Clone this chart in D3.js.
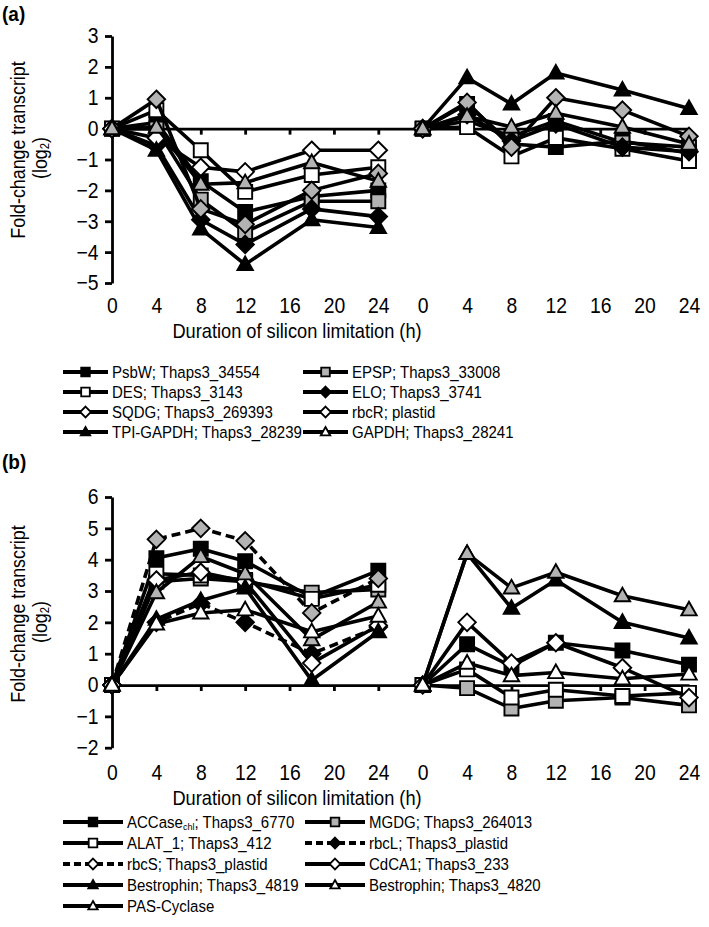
<!DOCTYPE html>
<html><head><meta charset="utf-8">
<script src="https://cdn.jsdelivr.net/npm/d3@7"></script>
<style>body{margin:0;background:#fff}svg{display:block}</style>
</head><body>
<script>
// ---------------- DATA ----------------
const hours = [0, 4, 8, 12, 18, 24];
const xTickLabels = ["0","4","8","12","16","20","24","0","4","8","12","16","20","24"];
const yTicksA = [-5,-4,-3,-2,-1,0,1,2,3];
const yTicksB = [-2,-1,0,1,2,3,4,5,6];

// Panel (a)
const namesA = ["PsbW; Thaps3_34554","EPSP; Thaps3_33008","DES; Thaps3_3143","ELO; Thaps3_3741",
                "SQDG; Thaps3_269393","rbcR; plastid","TPI-GAPDH; Thaps3_28239","GAPDH; Thaps3_28241"];
const PsbW_L  = [0, 0.2, -1.7, -2.7, -2.2, -2.0];   const PsbW_R  = [0, 0.8, -0.5, -0.6, -0.4, -0.8];
const EPSP_L  = [0, 0.0, -2.3, -3.35, -2.35, -2.35]; const EPSP_R  = [0, 0.25, -0.25, 0.25, -0.45, -0.6];
const DES_L   = [0, 0.6, -0.7, -2.05, -1.5, -1.25]; const DES_R   = [0, 0.05, -0.9, -0.3, -0.65, -1.05];
const ELO_L   = [0, -0.55, -2.95, -3.75, -2.6, -2.85]; const ELO_R = [0, 0.45, -0.4, 0.15, -0.6, -0.75];
const SQDG_L  = [0, 0.95, -2.6, -3.1, -2.0, -1.45]; const SQDG_R  = [0, 0.85, -0.6, 1.0, 0.6, -0.25];
const rbcR_L  = [0, -0.3, -1.25, -1.4, -0.7, -0.7]; const rbcR_R  = null;
const TPI_L   = [0, -0.7, -3.25, -4.4, -2.95, -3.2]; const TPI_R  = [0, 1.65, 0.8, 1.8, 1.25, 0.65];
const GAPDH_L = [0, 0.05, -1.8, -1.75, -1.1, -1.7]; const GAPDH_R = [0, 0.4, 0.05, 0.5, 0.05, -0.5];

// Panel (b)
const namesB = ["ACCase_{chl}; Thaps3_6770","MGDG; Thaps3_264013","ALAT_1; Thaps3_412","rbcL; Thaps3_plastid",
                "rbcS; Thaps3_plastid","CdCA1; Thaps3_233","Bestrophin; Thaps3_4819","Bestrophin; Thaps3_4820","PAS-Cyclase"];
const ACC_L   = [0, 4.05, 4.35, 3.95, 2.8, 3.65];  const ACC_R   = [0, 1.3, 0.6, 1.35, 1.1, 0.65];
const MGDG_L  = [0, 3.3, 3.4, 3.3, 2.95, 3.05];    const MGDG_R  = [0, -0.1, -0.75, -0.5, -0.4, -0.65];
const ALAT_L  = [0, 3.55, 3.5, 3.35, 2.75, 3.2];   const ALAT_R  = [0, 0.5, -0.4, -0.15, -0.35, -0.25];
const rbcL_L  = [0, 2.0, 2.6, 2.0, 1.0, 1.85];     const rbcL_R  = null;
const rbcS_L  = [0, 4.65, 5.0, 4.6, 2.3, 3.4];     const rbcS_R  = null;
const CdCA_L  = [0, 3.35, 3.6, 3.3, 0.7, 1.9];     const CdCA_R  = [0, 2.0, 0.7, 1.35, 0.55, -0.4];
const B4819_L = [0, 2.1, 2.7, 3.1, 0.15, 1.7];     const B4819_R = [0, 4.2, 2.45, 3.35, 2.0, 1.5];
const B4820_L = [0, 2.95, 4.1, 3.55, 1.45, 2.65];  const B4820_R = [0, 4.2, 3.1, 3.6, 2.85, 2.4];
const PAS_L   = [0, 1.95, 2.3, 2.4, 1.7, 2.2];     const PAS_R   = [0, 0.7, 0.3, 0.4, 0.2, 0.35];

// ---------------- STYLES (separate from data) ----------------
const GRAY = "#b3b3b3";
const stylesA = [
  {shape:"square", fill:"#000"}, {shape:"square", fill:GRAY}, {shape:"square", fill:"#fff"}, {shape:"diamond", fill:"#000"},
  {shape:"diamond", fill:GRAY}, {shape:"diamond", fill:"#fff"}, {shape:"triangle", fill:"#000"}, {shape:"triangle", fill:GRAY}];
const legendFillA = ["#000", GRAY, "#fff", "#000", "#fff", "#fff", "#000", "#fff"];
const stylesB = [
  {shape:"square", fill:"#000"}, {shape:"square", fill:GRAY}, {shape:"square", fill:"#fff"}, {shape:"diamond", fill:"#000", dash:true},
  {shape:"diamond", fill:GRAY, dash:true}, {shape:"diamond", fill:"#fff"}, {shape:"triangle", fill:"#000"}, {shape:"triangle", fill:GRAY},
  {shape:"triangle", fill:"#fff"}];
const legendFillB = ["#000", GRAY, "#fff", "#000", "#fff", "#fff", "#000", "#fff", "#fff"];

const seriesA = [[PsbW_L,PsbW_R],[EPSP_L,EPSP_R],[DES_L,DES_R],[ELO_L,ELO_R],[SQDG_L,SQDG_R],[rbcR_L,rbcR_R],[TPI_L,TPI_R],[GAPDH_L,GAPDH_R]]
  .map((d,i)=>({name:namesA[i], left:d[0], right:d[1], ...stylesA[i], lfill:legendFillA[i]}));
const seriesB = [[ACC_L,ACC_R],[MGDG_L,MGDG_R],[ALAT_L,ALAT_R],[rbcL_L,rbcL_R],[rbcS_L,rbcS_R],[CdCA_L,CdCA_R],[B4819_L,B4819_R],[B4820_L,B4820_R],[PAS_L,PAS_R]]
  .map((d,i)=>({name:namesB[i], left:d[0], right:d[1], ...stylesB[i], lfill:legendFillB[i]}));

// ---------------- DRAW ----------------
const FONT = "'Liberation Sans', Arial, Helvetica, sans-serif";
const svg = d3.select("body").append("svg").attr("width",709).attr("height",927)
  .style("font-family", FONT);

function markerPath(shape, s){
  if(shape==="square") return `M${-s},${-s}h${2*s}v${2*s}h${-2*s}Z`;
  if(shape==="diamond"){ const d=s*1.25; return `M0,${-d}L${d},0L0,${d}L${-d},0Z`; }
  return `M0,${-s*1.15}L${s*1.1},${s*0.8}L${-s*1.1},${s*0.8}Z`;
}

function drawText(g, x, y, str, size, sx, anchor, weight, rot){
  const t = g.append("text")
    .attr("transform", `translate(${x},${y})` + (rot?` rotate(${rot})`:"") + ` scale(${sx},1)`)
    .attr("font-size", size).attr("text-anchor", anchor||"start")
    .attr("dominant-baseline","central").attr("fill","#000");
  if(weight) t.attr("font-weight", weight);
  const m = str.match(/^(.*)_\{(.*)\}(.*)$/);
  if(m){
    t.append("tspan").text(m[1]);
    t.append("tspan").attr("font-size", size*0.6).attr("dy", size*0.22).text(m[2]);
    t.append("tspan").attr("dy", -size*0.22).text(m[3]);
  } else t.text(str);
  return t;
}

function panel(cfg){
  const g = svg.append("g");
  const x = d3.scaleLinear().domain([0,52]).range([112,689]);
  const y = d3.scaleLinear().domain(cfg.yDomain).range(cfg.yRange);
  const y0 = y(0);
  const xTickVals = d3.range(0,53,4);

  // y axis
  const ya = g.append("g").attr("transform","translate(112,0)")
    .call(d3.axisLeft(y).tickValues(cfg.yTicks).tickSizeInner(7).tickSizeOuter(0).tickPadding(8)
      .tickFormat(d => d<0 ? "\u2212"+(-d) : String(d)));
  ya.select(".domain").attr("stroke-width",2.8);
  ya.selectAll(".tick line").attr("stroke-width",2.8);
  ya.selectAll(".tick text").attr("font-size",21.5).attr("font-family",FONT)
    .attr("transform","scale(0.9,1)").attr("fill","#000");

  // x axis line at zero with ticks
  const xa = g.append("g").attr("transform",`translate(0,${y0})`)
    .call(d3.axisBottom(x).tickValues(xTickVals.filter(d=>d>0)).tickSizeInner(6).tickSizeOuter(0).tickFormat(""));
  xa.select(".domain").attr("stroke-width",2.8);
  xa.selectAll(".tick line").attr("stroke-width",2.8);

  // x labels at bottom
  const xl = g.append("g").attr("transform",`translate(0,${cfg.xLabelY})`)
    .call(d3.axisBottom(x).tickValues(xTickVals).tickSize(0).tickPadding(0).tickFormat((d,i)=>xTickLabels[i]));
  xl.select(".domain").remove();
  xl.selectAll(".tick text").attr("font-size",21.5).attr("font-family",FONT).attr("fill","#000")
    .attr("dy",null).attr("y",0).attr("dominant-baseline","central").attr("transform","scale(0.9,1)");

  // series
  const line = d3.line().x(d=>x(d[0])).y(d=>y(d[1]));
  cfg.series.forEach(s=>{
    [[s.left,0],[s.right,28]].forEach(([vals,off])=>{
      if(!vals) return;
      const pts = vals.map((v,i)=>[hours[i]+off, v]);
      g.append("path").attr("d",line(pts)).attr("fill","none").attr("stroke","#000")
        .attr("stroke-width",3.6).attr("stroke-linejoin","round")
        .attr("stroke-dasharray", s.dash ? "9,5" : null);
      g.selectAll(null).data(pts).enter().append("path")
        .attr("transform",d=>`translate(${x(d[0])},${y(d[1])})`)
        .attr("d",markerPath(s.shape,7)).attr("fill",s.fill).attr("stroke","#000").attr("stroke-width",1.9);
    });
  });

  // titles
  drawText(g, 297, cfg.titleY, "Duration of silicon limitation (h)", 20.5, 0.89, "middle");
  drawText(g, 18, cfg.yTitleC, "Fold-change transcript", 20.5, 0.87, "middle", null, -90);
  const lt = g.append("text")
    .attr("transform",`translate(40,${cfg.yTitleC+8}) rotate(-90) scale(0.87,1)`)
    .attr("font-size",20.5).attr("text-anchor","middle").attr("dominant-baseline","central");
  lt.append("tspan").text("(log");
  lt.append("tspan").attr("font-size",13).attr("dy",5).text("2");
  lt.append("tspan").attr("dy",-5).text(")");
  drawText(g, 2, cfg.labelY, cfg.label, 20, 0.95, "start", "bold");

  // legend
  cfg.series.forEach((s,i)=>{
    const col = i%2, row = Math.floor(i/2);
    const L = cfg.legend;
    const x1 = L.lineX[col], x2 = x1 + L.lineW, yy = L.y0 + row*L.dy;
    g.append("line").attr("x1",x1).attr("x2",x2).attr("y1",yy).attr("y2",yy)
      .attr("stroke","#000").attr("stroke-width",4).attr("stroke-dasharray", s.dash ? "7,4" : null);
    g.append("path").attr("transform",`translate(${(x1+x2)/2},${yy})`)
      .attr("d",markerPath(s.shape,4.3)).attr("fill",s.lfill).attr("stroke","#000").attr("stroke-width",1.8);
    drawText(g, x2+4, yy, s.name, 16.5, 0.91, "start");
  });
}

panel({yDomain:[-5,3], yRange:[283,36], yTicks:yTicksA, xLabelY:305, titleY:331,
  yTitleC:150, label:"(a)", labelY:14, series:seriesA,
  legend:{lineX:[63,303], lineW:45, y0:372, dy:20}});
panel({yDomain:[-2,6], yRange:[747.7,497], yTicks:yTicksB, xLabelY:772, titleY:798,
  yTitleC:614, label:"(b)", labelY:462, series:seriesB,
  legend:{lineX:[63,305], lineW:60, y0:822, dy:21}});
</script>
</body></html>
